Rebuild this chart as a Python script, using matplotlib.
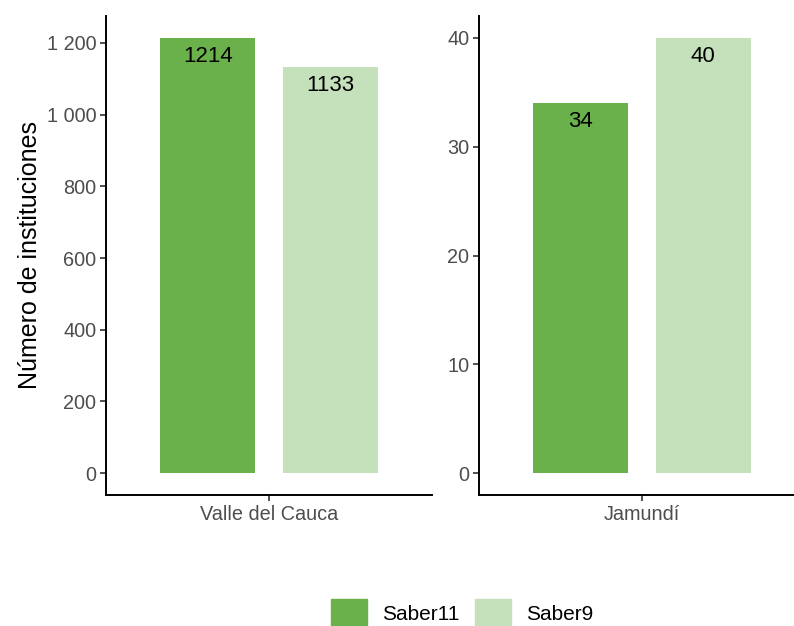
import numpy as np
import matplotlib.pyplot as plt
from matplotlib.patches import Patch
from matplotlib.ticker import FuncFormatter, MultipleLocator

plt.rcParams['font.family'] = ['Liberation Sans', 'DejaVu Sans']

regions = ["Valle del Cauca", "Jamundí"]
series = ["Saber11", "Saber9"]
values = {
    "Valle del Cauca": [1214, 1133],
    "Jamundí": [34, 40],
}
ystep = {"Valle del Cauca": 200, "Jamundí": 10}
colors = ["#6ab14c", "#c5e1bb"]

W, H = 794, 626
fig = plt.figure(figsize=(W / 100, H / 100), dpi=100)

# panel boxes in pixels: left, top, right, bottom
boxes = [(106, 16, 432, 495), (479, 16, 805, 495)]
offsets = [-0.225, 0.225]
bar_w = 0.35


def thousands(v, pos):
    return f"{int(v):,}".replace(",", " ")


for region, (l, t, r, b) in zip(regions, boxes):
    ax = fig.add_axes([l / W, 1 - b / H, (r - l) / W, (b - t) / H])
    vals = values[region]
    top = max(vals)
    for k, v in enumerate(vals):
        ax.bar(1 + offsets[k], v, width=bar_w, color=colors[k])
        ax.annotate(str(v), (1 + offsets[k], v), xytext=(0, -13.5),
                    textcoords="offset points", ha="center", va="center",
                    fontsize=16, color="black")
    ax.set_xlim(0.4, 1.6)
    ax.set_ylim(-0.05 * top, 1.05 * top)
    ax.set_xticks([1])
    ax.set_xticklabels([region])
    ax.yaxis.set_major_locator(MultipleLocator(ystep[region]))
    ax.yaxis.set_major_formatter(FuncFormatter(thousands))
    for side in ["top", "right"]:
        ax.spines[side].set_visible(False)
    for side in ["left", "bottom"]:
        ax.spines[side].set_linewidth(1.4)
    ax.tick_params(axis="both", length=4, width=1.2, color="#333333",
                   labelcolor="#4d4d4d", labelsize=14.3, pad=3)

fig.text(30 / W, 1 - 255 / H, "Número de instituciones", rotation=90,
         ha="center", va="center", fontsize=18)

handles = [Patch(color=c, label=s) for c, s in zip(colors, series)]
fig.legend(handles=handles, loc="center", bbox_to_anchor=(0.582, 0.021),
           ncol=2, frameon=False, fontsize=15, handlelength=1.73,
           handleheight=1.73, handletextpad=0.7, columnspacing=0.75)

fig.savefig("out.png", dpi=100)
